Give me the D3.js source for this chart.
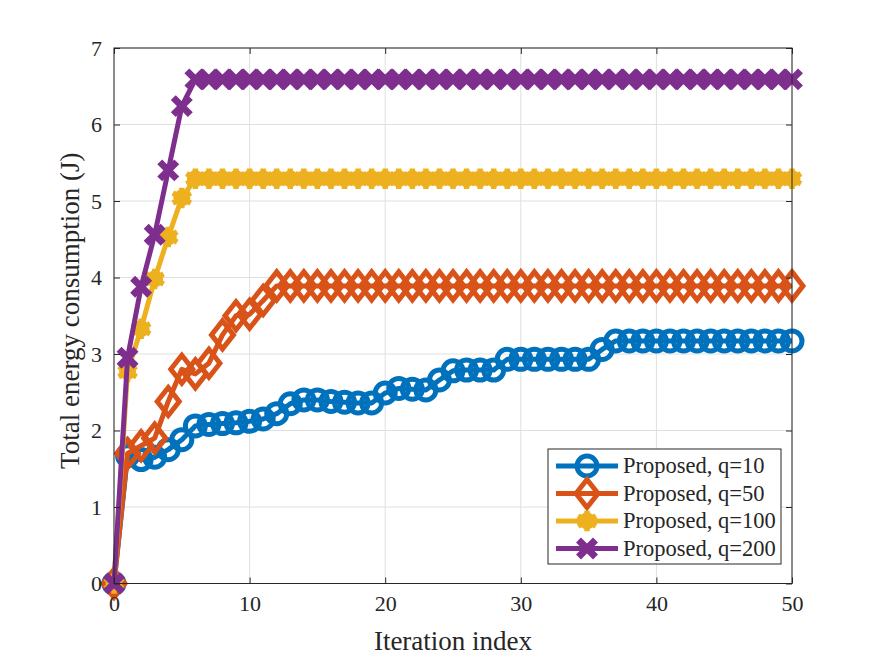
<!DOCTYPE html>
<html>
<head>
<meta charset="utf-8">
<script src="https://cdn.jsdelivr.net/npm/d3@7"></script>
<style>
html,body{margin:0;padding:0;background:#fff;}
svg{display:block;}
text{font-family:"Liberation Serif","Times New Roman",serif;fill:#262626;}
</style>
</head>
<body>
<svg id="chart" width="876" height="657"></svg>
<script>
const iterations = d3.range(0, 51);
const xTicks = [0, 10, 20, 30, 40, 50];
const yTicks = [0, 1, 2, 3, 4, 5, 6, 7];
const seriesNames = ["Proposed, q=10", "Proposed, q=50", "Proposed, q=100", "Proposed, q=200"];
const q10 = [0, 1.67, 1.62, 1.65, 1.75, 1.88, 2.06, 2.08, 2.09, 2.10, 2.12, 2.15, 2.22, 2.35, 2.40, 2.40, 2.38, 2.37, 2.36, 2.36,
  2.49, 2.55, 2.54, 2.53, 2.66, 2.78, 2.79, 2.79, 2.79, 2.93, 2.93, 2.93, 2.93, 2.93, 2.93, 2.93, 3.06, 3.17, 3.17, 3.17,
  3.17, 3.17, 3.17, 3.17, 3.17, 3.17, 3.17, 3.17, 3.17, 3.17, 3.17];
const q50 = [0, 1.70, 1.80, 1.90, 2.38, 2.80, 2.74, 2.88, 3.25, 3.50, 3.52, 3.70, 3.89, 3.89, 3.89, 3.89, 3.89, 3.89, 3.89, 3.89,
  3.89, 3.89, 3.89, 3.89, 3.89, 3.89, 3.89, 3.89, 3.89, 3.89, 3.89, 3.89, 3.89, 3.89, 3.89, 3.89, 3.89, 3.89, 3.89, 3.89,
  3.89, 3.89, 3.89, 3.89, 3.89, 3.89, 3.89, 3.89, 3.89, 3.89, 3.89];
const q100 = [0, 2.77, 3.33, 3.98, 4.53, 5.04, 5.29, 5.29, 5.29, 5.29, 5.29, 5.29, 5.29, 5.29, 5.29, 5.29, 5.29, 5.29, 5.29, 5.29,
  5.29, 5.29, 5.29, 5.29, 5.29, 5.29, 5.29, 5.29, 5.29, 5.29, 5.29, 5.29, 5.29, 5.29, 5.29, 5.29, 5.29, 5.29, 5.29, 5.29,
  5.29, 5.29, 5.29, 5.29, 5.29, 5.29, 5.29, 5.29, 5.29, 5.29, 5.29];
const q200 = [0, 2.95, 3.88, 4.56, 5.40, 6.24, 6.59, 6.59, 6.59, 6.59, 6.59, 6.59, 6.59, 6.59, 6.59, 6.59, 6.59, 6.59, 6.59, 6.59,
  6.59, 6.59, 6.59, 6.59, 6.59, 6.59, 6.59, 6.59, 6.59, 6.59, 6.59, 6.59, 6.59, 6.59, 6.59, 6.59, 6.59, 6.59, 6.59, 6.59,
  6.59, 6.59, 6.59, 6.59, 6.59, 6.59, 6.59, 6.59, 6.59, 6.59, 6.59];

const colors = ["#0072BD", "#D95319", "#EDB120", "#7E2F8E"];
const markerTypes = ["circle", "diamond", "star", "cross"];
const allSeries = [q10, q50, q100, q200];

const svg = d3.select("#chart");
const W = 876, H = 657;
const m = {left: 114, right: 84, top: 48, bottom: 73.5};
const x = d3.scaleLinear().domain([0, 50]).range([m.left, W - m.right]);
const y = d3.scaleLinear().domain([0, 7]).range([H - m.bottom, m.top]);

// grid
const g = svg.append("g");
g.selectAll(".gx").data(xTicks).join("line")
  .attr("x1", d => x(d)).attr("x2", d => x(d))
  .attr("y1", y(0)).attr("y2", y(7))
  .attr("stroke", "#dfdfdf").attr("stroke-width", 1);
g.selectAll(".gy").data(yTicks).join("line")
  .attr("x1", x(0)).attr("x2", x(50))
  .attr("y1", d => y(d)).attr("y2", d => y(d))
  .attr("stroke", "#dfdfdf").attr("stroke-width", 1);

// series
const plot = svg.append("g");
function drawMarker(sel, type, color) {
  if (type === "circle") {
    sel.append("circle").attr("r", 10).attr("fill", "none").attr("stroke", color).attr("stroke-width", 5);
  } else if (type === "diamond") {
    sel.append("path").attr("d", "M0,-14L11,0L0,14L-11,0Z").attr("fill", "none").attr("stroke", color).attr("stroke-width", 5).attr("stroke-linejoin", "miter");
  } else if (type === "star") {
    sel.append("circle").attr("r", 8.5).attr("fill", color);
    sel.append("path").attr("d", d3.symbol(d3.symbolAsterisk, 300)()).attr("fill", "none").attr("stroke", color).attr("stroke-width", 5.5);
  } else if (type === "cross") {
    sel.append("path").attr("d", "M-8.5,-8.5L8.5,8.5M-8.5,8.5L8.5,-8.5").attr("fill", "none").attr("stroke", color).attr("stroke-width", 7);
  }
}
const line = d3.line().x((d, i) => x(iterations[i])).y(d => y(d));
allSeries.forEach((vals, si) => {
  plot.append("path").datum(vals).attr("d", line)
    .attr("fill", "none").attr("stroke", colors[si]).attr("stroke-width", 5).attr("stroke-linejoin", "round");
  const mk = plot.append("g").selectAll("g").data(vals).join("g")
    .attr("transform", (d, i) => `translate(${x(iterations[i])},${y(d)})`);
  drawMarker(mk, markerTypes[si], colors[si]);
});

// axes box
const axG = svg.append("g");
axG.append("rect").attr("x", x(0)).attr("y", y(7)).attr("width", x(50) - x(0)).attr("height", y(0) - y(7))
  .attr("fill", "none").attr("stroke", "#262626").attr("stroke-width", 1);
const axBottom = d3.axisBottom(x).tickValues(xTicks).tickSize(-6).tickPadding(12).tickFormat(d3.format("d"));
const axTop = d3.axisTop(x).tickValues(xTicks).tickSize(-6).tickFormat("");
const axLeft = d3.axisLeft(y).tickValues(yTicks).tickSize(-6).tickPadding(12).tickFormat(d3.format("d"));
const axRight = d3.axisRight(y).tickValues(yTicks).tickSize(-6).tickFormat("");
function styleAxis(a) {
  a.select(".domain").remove();
  a.selectAll("line").attr("stroke", "#262626");
  a.selectAll("text").attr("font-size", 22).attr("fill", "#262626").attr("font-family", "Liberation Serif, serif");
}
axG.append("g").attr("transform", `translate(0,${y(0)})`).call(axBottom).call(styleAxis);
axG.append("g").attr("transform", `translate(0,${y(7)})`).call(axTop).call(styleAxis);
axG.append("g").attr("transform", `translate(${x(0)},0)`).call(axLeft).call(styleAxis);
axG.append("g").attr("transform", `translate(${x(50)},0)`).call(axRight).call(styleAxis);

svg.append("text").attr("x", (x(0) + x(50)) / 2).attr("y", 650).attr("text-anchor", "middle")
  .attr("font-size", 27).text("Iteration index");
svg.append("text").attr("transform", `translate(79,${(y(0) + y(7)) / 2 - 5}) rotate(-90)`).attr("text-anchor", "middle")
  .attr("font-size", 27).text("Total energy consumption (J)");

// legend
const lg = svg.append("g");
lg.append("rect").attr("x", 548).attr("y", 449).attr("width", 233).attr("height", 115)
  .attr("fill", "#fff").attr("stroke", "#262626").attr("stroke-width", 1);
seriesNames.forEach((name, i) => {
  const cy = 466 + i * 27.5;
  lg.append("line").attr("x1", 556).attr("x2", 618).attr("y1", cy).attr("y2", cy)
    .attr("stroke", colors[i]).attr("stroke-width", 5);
  const mg = lg.append("g").attr("transform", `translate(587,${cy})`);
  drawMarker(mg, markerTypes[i], colors[i]);
  lg.append("text").attr("x", 623).attr("y", cy + 7).attr("font-size", 22.5).text(name);
});
</script>
</body>
</html>
